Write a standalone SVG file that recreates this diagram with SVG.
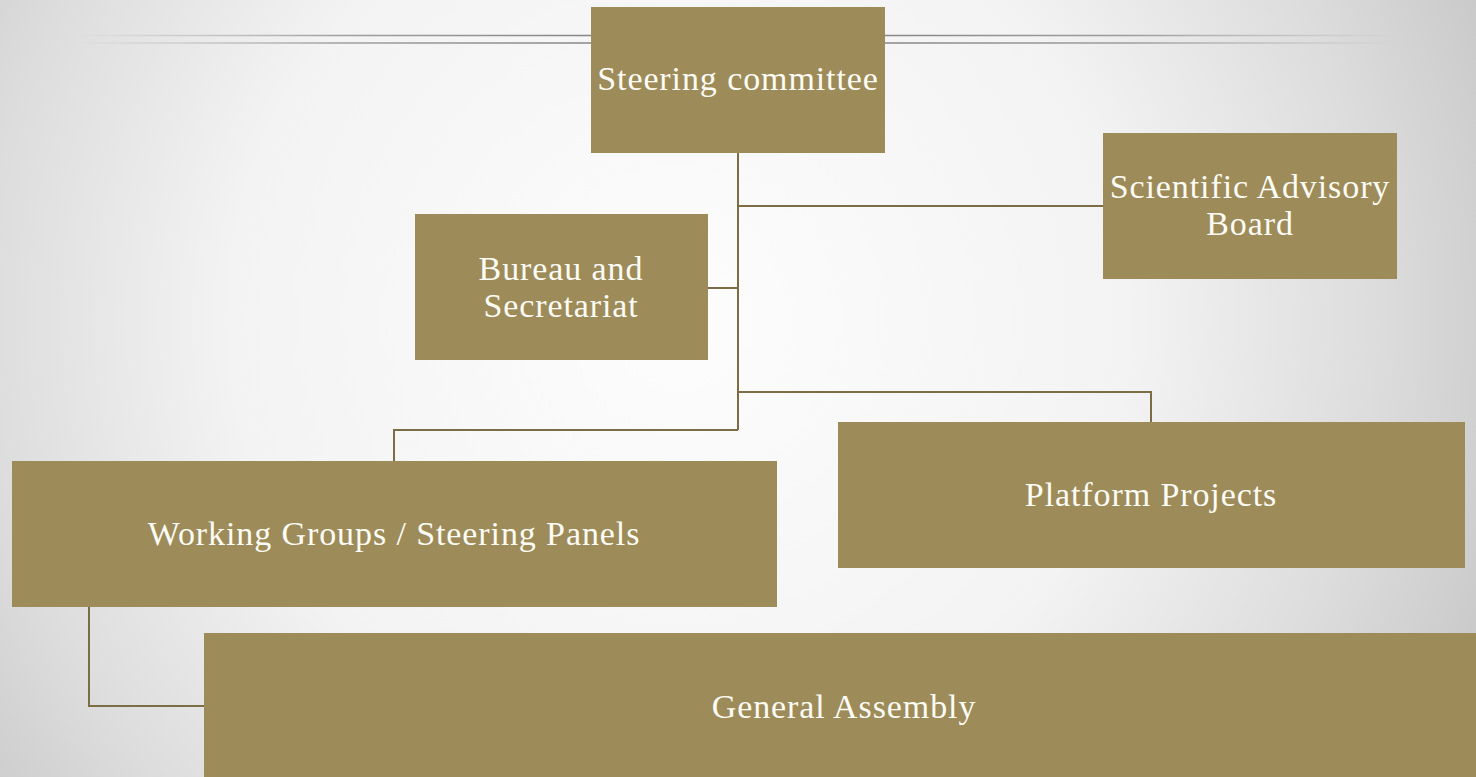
<svg xmlns="http://www.w3.org/2000/svg" width="1476" height="777" viewBox="0 0 1476 777">
<defs>
<radialGradient id="bg" cx="680" cy="320" r="900" gradientUnits="userSpaceOnUse">
<stop offset="0" stop-color="#fdfdfd"/>
<stop offset="0.5" stop-color="#f3f3f3"/>
<stop offset="0.78" stop-color="#dddcdc"/>
<stop offset="1" stop-color="#c6c5c5"/>
</radialGradient>
<linearGradient id="rule" x1="75" y1="0" x2="1400" y2="0" gradientUnits="userSpaceOnUse">
<stop offset="0" stop-color="#999" stop-opacity="0"/>
<stop offset="0.2" stop-color="#8a8a8a" stop-opacity="0.8"/>
<stop offset="0.5" stop-color="#777" stop-opacity="1"/>
<stop offset="0.8" stop-color="#8a8a8a" stop-opacity="0.8"/>
<stop offset="1" stop-color="#999" stop-opacity="0"/>
</linearGradient>
<style>
.box{fill:#9d8b5a}
.lbl{fill:#fcfbf4;font-family:"Liberation Serif","DejaVu Serif",serif;font-size:34px;letter-spacing:0.9px;text-anchor:middle}
.conn{fill:none;stroke:#7d6d44;stroke-width:2}
</style>
</defs>
<rect width="1476" height="777" fill="url(#bg)"/>
<g id="decor">
<line x1="75" y1="35.5" x2="1400" y2="35.5" stroke="url(#rule)" stroke-width="1.5"/>
<line x1="75" y1="43" x2="1400" y2="43" stroke="url(#rule)" stroke-width="1.5"/>
</g>
<g id="connectors">
<path class="conn" d="M738,153 V430"/>
<path class="conn" d="M738,206 H1103"/>
<path class="conn" d="M708,288 H738"/>
<path class="conn" d="M738,392 H1151 V422"/>
<path class="conn" d="M738,430 H394 V461"/>
<path class="conn" d="M89,607 V706 H204"/>
</g>
<g id="steering-committee">
<rect class="box" x="591" y="7" width="294" height="146"/>
<text class="lbl" x="738" y="90">Steering committee</text>
</g>
<g id="scientific-advisory-board">
<rect class="box" x="1103" y="133" width="294" height="146"/>
<text class="lbl" x="1250" y="198">Scientific Advisory</text>
<text class="lbl" x="1250" y="235">Board</text>
</g>
<g id="bureau-secretariat">
<rect class="box" x="415" y="214" width="293" height="146"/>
<text class="lbl" x="561" y="280">Bureau and</text>
<text class="lbl" x="561" y="317">Secretariat</text>
</g>
<g id="platform-projects">
<rect class="box" x="838" y="422" width="627" height="146"/>
<text class="lbl" x="1151" y="506">Platform Projects</text>
</g>
<g id="working-groups">
<rect class="box" x="12" y="461" width="765" height="146"/>
<text class="lbl" x="394" y="545">Working Groups / Steering Panels</text>
</g>
<g id="general-assembly">
<rect class="box" x="204" y="633" width="1272" height="144"/>
<text class="lbl" x="844" y="718">General Assembly</text>
</g>
</svg>
